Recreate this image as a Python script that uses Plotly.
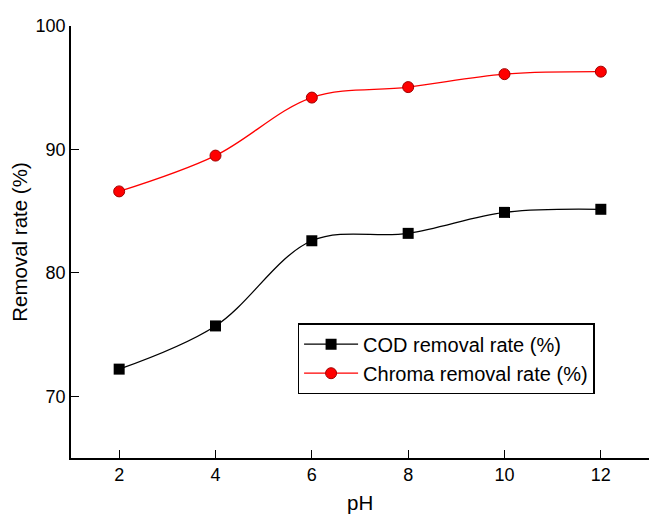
import plotly.graph_objects as go

# pH values and removal rates (%)
ph = [2, 4, 6, 8, 10, 12]
cod_removal = [72.2, 75.7, 82.6, 83.2, 84.9, 85.15]
chroma_removal = [86.6, 89.5, 94.2, 95.05, 96.1, 96.3]

# axis ticks
x_major = [2, 4, 6, 8, 10, 12]
x_minor = [3, 5, 7, 9, 11]
y_major = [70, 80, 90, 100]
y_minor = [75, 85, 95]
x_range = [1, 13]
y_range = [65, 100]

FAMILY = "Liberation Sans, Arial, Helvetica, sans-serif"

fig = go.Figure()

fig.add_trace(go.Scatter(
    x=ph, y=cod_removal, name="COD removal rate (%)",
    mode="lines+markers",
    line=dict(color="black", width=1.3, shape="spline", smoothing=1.0),
    marker=dict(symbol="square", size=11, color="black"),
))
fig.add_trace(go.Scatter(
    x=ph, y=chroma_removal, name="Chroma removal rate (%)",
    mode="lines+markers",
    line=dict(color="red", width=1.3, shape="spline", smoothing=1.0),
    marker=dict(symbol="circle", size=11, color="red",
                line=dict(color="#a00000", width=1)),
))

tick_font = dict(family=FAMILY, size=18, color="black")
title_font = dict(family=FAMILY, size=20.5, color="black")

fig.update_layout(
    width=649, height=517,
    margin=dict(l=71, r=0, t=26, b=59),
    paper_bgcolor="white", plot_bgcolor="white",
    font=tick_font,
    showlegend=True,
    legend=dict(
        x=0.392, y=0.312, xanchor="left", yanchor="top",
        bgcolor="white", bordercolor="black", borderwidth=1.5,
        font=dict(family=FAMILY, size=20, color="black"),
        tracegroupgap=0, itemwidth=54,
    ),
    xaxis=dict(
        range=x_range, tickvals=x_major, automargin=False,
        showline=True, linecolor="black", linewidth=1.5,
        ticks="inside", ticklen=8, tickwidth=1.2, tickcolor="black",
        showgrid=False, zeroline=False, mirror=False,
        tickfont=tick_font,
    ),
    yaxis=dict(
        range=y_range, tickvals=y_major, automargin=False,
        showline=True, linecolor="black", linewidth=1.5,
        ticks="inside", ticklen=8, tickwidth=1.2, tickcolor="black",
        showgrid=False, zeroline=False, mirror=False,
        title=dict(text="Removal rate (%)", font=title_font, standoff=2),
        tickfont=tick_font,
    ),
    # short inner ticks between the labelled ones
    xaxis2=dict(
        overlaying="x", side="bottom", range=x_range, tickvals=x_minor,
        ticks="inside", ticklen=4, tickwidth=1.2, tickcolor="black",
        showticklabels=False, showline=False, showgrid=False, zeroline=False,
    ),
    yaxis2=dict(
        overlaying="y", side="left", range=y_range, tickvals=y_minor,
        ticks="inside", ticklen=4, tickwidth=1.2, tickcolor="black",
        showticklabels=False, showline=False, showgrid=False, zeroline=False,
    ),
    # x-axis title, set low near the foot of the page
    annotations=[dict(
        text="pH", xref="paper", yref="paper", x=0.5, y=0,
        xanchor="center", yanchor="top", yshift=-31, showarrow=False,
        font=title_font,
    )],
)

fig.write_html("out.html")
